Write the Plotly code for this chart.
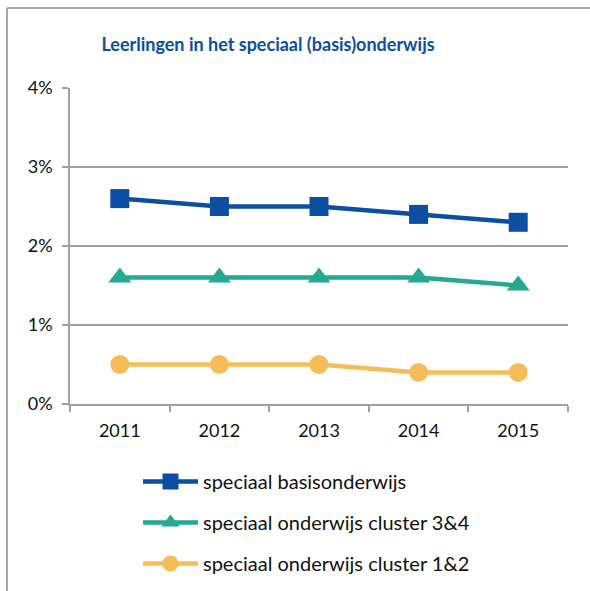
import plotly.graph_objects as go

years = ["2011", "2012", "2013", "2014", "2015"]
basis = [2.6, 2.5, 2.5, 2.4, 2.3]
cluster34 = [1.6, 1.6, 1.6, 1.6, 1.5]
cluster12 = [0.5, 0.5, 0.5, 0.4, 0.4]
names = ["speciaal basisonderwijs", "speciaal onderwijs cluster 3&4", "speciaal onderwijs cluster 1&2"]
colors = ["#0b4ea2", "#25a990", "#f5bd57"]
symbols = ["square", "triangle-up", "circle"]

W, H = 590, 591
L, R, T, B = 70, 22, 88, 187
pw, ph = W - L - R, H - T - B

fig = go.Figure()
for i, (vals, nm) in enumerate(zip([basis, cluster34, cluster12], names)):
    fig.add_trace(go.Scatter(
        x=years, y=[v / 100 for v in vals], name=nm, mode="lines+markers",
        legendgroup=str(i),
        line=dict(color=colors[i], width=4.5),
        marker=dict(symbol=symbols[i], size=19 if i != 1 else 20, color=colors[i]),
    ))

def px_x(p):
    return (p - L) / pw

def px_y(p):
    return (H - B - p) / ph

border = dict(color="#8a8a8a", width=1.5)
font = "Lato, 'Open Sans', sans-serif"
fig.update_layout(
    width=W, height=H,
    margin=dict(l=L, r=R, t=T, b=B, autoexpand=False),
    paper_bgcolor="white", plot_bgcolor="white",
    font=dict(family=font, size=18, color="#111"),
    title=dict(text="<b>Leerlingen in het speciaal (basis)onderwijs</b>",
               x=268 / W, xanchor="center", y=1 - 45 / H, yanchor="middle",
               xref="container", yref="container",
               font=dict(size=18, color="#0b4ea2", family=font)),
    showlegend=True,
    legend=dict(x=px_x(138), xanchor="left", y=px_y(462), yanchor="top",
                traceorder="grouped", tracegroupgap=12, itemwidth=55,
                font=dict(size=20, color="#111"), bgcolor="rgba(0,0,0,0)"),
    xaxis=dict(type="category", range=[-0.5, 4.5], showgrid=False,
               showline=True, linecolor="#a0a0a0", linewidth=1.5,
               ticks="outside", tickson="boundaries", ticklen=6, tickcolor="#a0a0a0",
               tickwidth=1.5, ticklabelstandoff=10, tickfont=dict(size=18)),
    yaxis=dict(range=[0, 0.04], tickvals=[0, 0.01, 0.02, 0.03, 0.04], tickformat=".0%",
               showgrid=True, gridcolor="#a0a0a0", gridwidth=1.5,
               showline=True, linecolor="#a0a0a0", linewidth=1.5,
               ticks="outside", ticklen=6, tickcolor="#a0a0a0", tickwidth=1.5,
               ticklabelstandoff=6, zeroline=False, tickfont=dict(size=18)),
    shapes=[
        dict(type="line", xref="paper", yref="paper",
             x0=px_x(7), x1=px_x(W + 5), y0=px_y(8), y1=px_y(8), line=border),
        dict(type="line", xref="paper", yref="paper",
             x0=px_x(7), x1=px_x(7), y0=px_y(8), y1=px_y(H + 5), line=border),
    ],
)
fig.write_html("out.html", config={"displayModeBar": False},
               post_script="document.body.style.margin='0';document.body.style.padding='0';")
